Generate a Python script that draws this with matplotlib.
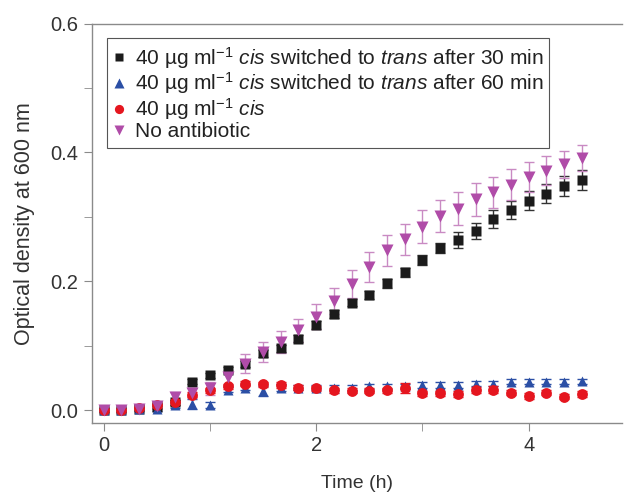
import matplotlib
matplotlib.use("Agg")
import matplotlib.pyplot as plt
from matplotlib.ticker import MultipleLocator, FormatStrFormatter
from matplotlib.lines import Line2D

plt.rcParams["font.family"] = ["Liberation Sans", "DejaVu Sans"]
plt.rcParams["mathtext.fontset"] = "custom"
plt.rcParams["mathtext.rm"] = "Liberation Sans"
plt.rcParams["mathtext.it"] = "Liberation Sans:italic"

# time points (h), every 10 min
time_h = [0.0, 0.167, 0.333, 0.5, 0.667, 0.833, 1.0, 1.167, 1.333, 1.5,
          1.667, 1.833, 2.0, 2.167, 2.333, 2.5, 2.667, 2.833, 3.0, 3.167,
          3.333, 3.5, 3.667, 3.833, 4.0, 4.167, 4.333, 4.5]

# 40 ug/ml cis switched to trans after 30 min
od_30 = [0.000, 0.000, 0.002, 0.005, 0.012, 0.044, 0.054, 0.063, 0.072, 0.088,
         0.096, 0.111, 0.132, 0.149, 0.167, 0.179, 0.197, 0.214, 0.233, 0.252,
         0.264, 0.278, 0.296, 0.310, 0.325, 0.336, 0.348, 0.357]
err_30 = [0.003, 0.003, 0.003, 0.004, 0.004, 0.004, 0.004, 0.004, 0.005, 0.005,
          0.005, 0.005, 0.006, 0.006, 0.006, 0.006, 0.007, 0.007, 0.008, 0.008,
          0.012, 0.012, 0.014, 0.014, 0.015, 0.015, 0.016, 0.016]

# 40 ug/ml cis switched to trans after 60 min
od_60 = [0.000, 0.000, 0.001, 0.002, 0.008, 0.009, 0.008, 0.032, 0.035, 0.030,
         0.035, 0.035, 0.035, 0.035, 0.035, 0.037, 0.037, 0.037, 0.039, 0.039,
         0.039, 0.041, 0.041, 0.044, 0.044, 0.044, 0.044, 0.045]
err_60 = [0.003, 0.003, 0.003, 0.004, 0.005, 0.008, 0.004, 0.004, 0.004, 0.008,
          0.006, 0.004, 0.004, 0.004, 0.004, 0.004, 0.004, 0.004, 0.004, 0.004,
          0.004, 0.004, 0.004, 0.004, 0.004, 0.004, 0.004, 0.004]

# 40 ug/ml cis
od_cis = [0.000, 0.000, 0.004, 0.008, 0.012, 0.024, 0.031, 0.037, 0.041, 0.040,
          0.039, 0.035, 0.034, 0.031, 0.030, 0.030, 0.031, 0.034, 0.026, 0.026,
          0.025, 0.031, 0.032, 0.027, 0.022, 0.027, 0.021, 0.025]
err_cis = [0.003, 0.003, 0.004, 0.004, 0.004, 0.004, 0.004, 0.004, 0.004, 0.004,
           0.004, 0.004, 0.004, 0.004, 0.004, 0.004, 0.004, 0.008, 0.004, 0.004,
           0.004, 0.005, 0.005, 0.004, 0.004, 0.004, 0.004, 0.004]

# no antibiotic
od_none = [0.000, 0.000, 0.002, 0.006, 0.020, 0.027, 0.034, 0.051, 0.072, 0.090,
           0.106, 0.124, 0.145, 0.170, 0.196, 0.222, 0.248, 0.265, 0.285, 0.301,
           0.313, 0.327, 0.338, 0.350, 0.362, 0.372, 0.382, 0.392]
err_none = [0.003, 0.003, 0.004, 0.005, 0.008, 0.008, 0.010, 0.012, 0.015, 0.016,
            0.017, 0.018, 0.019, 0.020, 0.022, 0.023, 0.024, 0.024, 0.025, 0.025,
            0.025, 0.025, 0.024, 0.024, 0.023, 0.022, 0.021, 0.020]

labels = [
    r"40 µg ml$^{-1}$ $\it{cis}$ switched to $\it{trans}$ after 30 min",
    r"40 µg ml$^{-1}$ $\it{cis}$ switched to $\it{trans}$ after 60 min",
    r"40 µg ml$^{-1}$ $\it{cis}$",
    "No antibiotic",
]

fig = plt.figure(figsize=(6.24, 4.93), dpi=100)
ax = fig.add_axes([0.147, 0.142, 0.85, 0.81])

series = [
    (od_30, err_30, "s", "#1b1b1b", "#333333", 6.8),
    (od_60, err_60, "^", "#2b4fa5", "#2b4fa5", 7.8),
    (od_cis, err_cis, "o", "#e5161f", "#e5161f", 7.8),
    (od_none, err_none, "v", "#b04ca8", "#c98ac3", 8.8),
]
handles = []
for (y, e, m, c, ec, ms), lab in zip(series, labels):
    ax.errorbar(time_h, y, yerr=e, fmt=m, color=c, ecolor=ec, ms=ms,
                mec="none", elinewidth=1, capsize=3.5, capthick=1)
    handles.append(Line2D([], [], ls="none", marker=m, color=c, mec="none",
                          ms=ms * 0.85, label=lab))

ax.set_xlim(-0.113, 4.88)
ax.set_ylim(-0.020, 0.6)
ax.xaxis.set_major_locator(MultipleLocator(2))
ax.xaxis.set_minor_locator(MultipleLocator(1))
ax.yaxis.set_major_locator(MultipleLocator(0.2))
ax.yaxis.set_minor_locator(MultipleLocator(0.1))
ax.yaxis.set_major_formatter(FormatStrFormatter("%.1f"))

for s in ["left", "bottom", "top"]:
    ax.spines[s].set_color("#8a8a8a")
    ax.spines[s].set_linewidth(1)
ax.spines["right"].set_visible(False)
ax.tick_params(which="both", direction="out", color="#8a8a8a", length=6,
               labelsize=14.5, labelcolor="#333333", top=False, right=False)

ax.set_xlabel("Time (h)", fontsize=14, color="#333333", labelpad=14)
ax.set_ylabel("Optical density at 600 nm", fontsize=15.5, color="#333333", labelpad=11)

leg = ax.legend(handles=handles, loc="upper left", bbox_to_anchor=(0.028, 0.963),
                borderaxespad=0, fontsize=15, fancybox=False, edgecolor="#555555",
                framealpha=1, handlelength=0.6, handletextpad=0.45, labelspacing=0.0,
                borderpad=0.3)
leg.get_frame().set_linewidth(0.8)
for t in leg.get_texts():
    t.set_color("#222222")

fig.savefig("out.png", dpi=100)
